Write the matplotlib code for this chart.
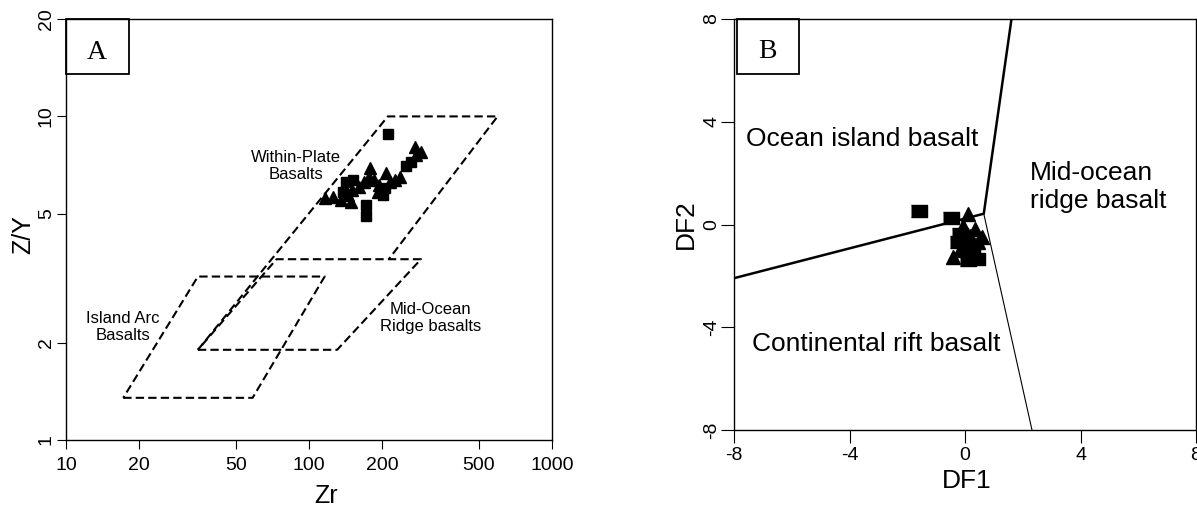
import matplotlib
matplotlib.use('Agg')
import matplotlib.pyplot as plt
from matplotlib.patches import Rectangle

plt.rcParams['font.family'] = ['Liberation Sans', 'DejaVu Sans']

#-----------------------------------------------------------------------------
# Painel A: Zr/Y x Zr (log-log), campos tracejados

zr_ticks = [10, 20, 50, 100, 200, 500, 1000]
zry_ticks = [1, 2, 5, 10, 20]

# arco de ilha
iab_zr = [17.2, 58.6, 116, 34.9, 17.2]
iab_zry = [1.35, 1.35, 3.20, 3.20, 1.35]
# dorsal meso-oceanica
morb_zr = [34.9, 130.6, 289, 73.5, 34.9]
morb_zry = [1.90, 1.90, 3.62, 3.62, 1.90]
# intraplaca (linha aberta)
wpb_zr = [34.9, 211, 597, 213]
wpb_zry = [1.90, 10.0, 10.0, 3.62]

a_sq_zr = [211, 172, 172, 142.6, 151.6, 201, 205, 138, 251, 262]
a_sq_zry = [8.82, 5.32, 4.92, 6.29, 6.35, 5.72, 5.99, 5.85, 7.03, 7.24]
a_tri_zr = [272, 290, 276, 179, 207, 236, 116, 125, 136, 149,
            151, 169, 186, 195, 215, 225, 177, 161, 192, 145]
a_tri_zry = [8.06, 7.78, 7.60, 6.91, 6.67, 6.51, 5.58, 5.65, 5.52, 5.45,
             5.93, 6.29, 6.35, 6.14, 6.29, 6.35, 6.51, 6.06, 5.85, 5.72]

#-----------------------------------------------------------------------------
# Painel B: DF1 x DF2

df_ticks = [-8, -4, 0, 4, 8]
junction = (0.65, 0.42)
left_end = (-8, -2.09)
top_end = (1.61, 8)
bottom_end = (2.32, -8)

b_sq_x = [-1.59, -0.47, -0.23, 0.40, 0.11, -0.17, 0.23]
b_sq_y = [0.51, 0.25, -0.68, -1.33, -1.40, -0.36, -0.82]
b_tri_x = [0.11, -0.41, 0.58, 0.35, -0.06, 0.0, 0.46, -0.17, 0.17]
b_tri_y = [0.42, -1.27, -0.49, -0.17, -0.04, -0.82, -0.68, -1.01, -0.43]

#-----------------------------------------------------------------------------

fig = plt.figure(figsize=(11.97, 5.11), dpi=100)
axA = fig.add_axes([66/1197, 71/511, 486/1197, 421/511])
axB = fig.add_axes([734/1197, 81/511, 462/1197, 411/511])

dash = (0, (4, 2))
axA.plot(iab_zr, iab_zry, color='black', lw=1.5, ls=dash)
axA.plot(morb_zr, morb_zry, color='black', lw=1.5, ls=dash)
axA.plot(wpb_zr, wpb_zry, color='black', lw=1.5, ls=dash)
axA.plot(a_sq_zr, a_sq_zry, 's', color='black', ms=7.5, ls='none')
axA.plot(a_tri_zr, a_tri_zry, '^', color='black', ms=9, ls='none')

axA.set_xscale('log')
axA.set_yscale('log')
axA.set_xlim(10, 1000)
axA.set_ylim(1, 20)
axA.set_xticks(zr_ticks)
axA.set_xticklabels([str(t) for t in zr_ticks])
axA.set_yticks(zry_ticks)
axA.set_yticklabels([str(t) for t in zry_ticks], rotation=90, va='center')
axA.minorticks_off()

axA.text(88, 7.03, 'Within-Plate\nBasalts', ha='center', va='center', fontsize=12)
axA.text(17.2, 2.23, 'Island Arc\nBasalts', ha='center', va='center', fontsize=12)
axA.text(316, 2.38, 'Mid-Ocean\nRidge basalts', ha='center', va='center', fontsize=12)

axA.set_xlabel('Zr', fontsize=18)
axA.set_ylabel('Z/Y', fontsize=18)
axA.xaxis.set_label_coords(0.536, -0.105)
axA.yaxis.set_label_coords(-0.063, 0.489)

axA.add_patch(Rectangle((0, 1 - 55/421), 62.6/486, 55/421, transform=axA.transAxes,
                        fill=False, lw=1.3, color='black', clip_on=False))
axA.text(31/486, 1 - 33/421, 'A', transform=axA.transAxes, ha='center', va='center',
         fontsize=20, family='Liberation Serif')

axA.tick_params(axis='both', direction='out', length=6.5, width=0.8, labelsize=14)
axA.tick_params(axis='x', pad=5.5)
axA.tick_params(axis='y', pad=1.5)

#-----------------------------------------------------------------------------

axB.plot([left_end[0], junction[0], top_end[0]], [left_end[1], junction[1], top_end[1]],
         color='black', lw=1.8)
axB.plot([junction[0], bottom_end[0]], [junction[1], bottom_end[1]], color='black', lw=0.8)
rect = [(-1, -0.7), (1, -0.7), (1, 0.7), (-1, 0.7)]
axB.plot(b_sq_x, b_sq_y, marker=rect, color='black', ms=11.5, ls='none')
axB.plot(b_tri_x, b_tri_y, '^', color='black', ms=10, ls='none')

axB.set_xlim(-8, 8)
axB.set_ylim(-8, 8)
axB.set_xticks(df_ticks)
axB.set_xticklabels([str(t) for t in df_ticks])
axB.set_yticks(df_ticks)
axB.set_yticklabels([str(t) for t in df_ticks], rotation=90, va='center')

axB.text(-7.6, 3.33, 'Ocean island basalt', ha='left', va='center', fontsize=19)
axB.text(2.26, 1.47, 'Mid-ocean\nridge basalt', ha='left', va='center', fontsize=19)
axB.text(-7.38, -4.67, 'Continental rift basalt', ha='left', va='center', fontsize=19)

axB.set_xlabel('DF1', fontsize=19)
axB.set_ylabel('DF2', fontsize=19)
axB.xaxis.set_label_coords(0.504, -0.095)
axB.yaxis.set_label_coords(-0.078, 0.5)

axB.add_patch(Rectangle((2.6/462, 1 - 55/411), 62.4/462, 55/411, transform=axB.transAxes,
                        fill=False, lw=1.3, color='black', clip_on=False))
axB.text(33/462, 1 - 32/411, 'B', transform=axB.transAxes, ha='center', va='center',
         fontsize=20, family='Liberation Serif')

axB.tick_params(axis='both', direction='out', length=9.5, width=0.8, labelsize=14)
axB.tick_params(axis='x', pad=2.5)
axB.tick_params(axis='y', pad=0.5)

for ax in (axA, axB):
    for s in ax.spines.values():
        s.set_linewidth(1.0)

fig.savefig('out.png', dpi=100)
